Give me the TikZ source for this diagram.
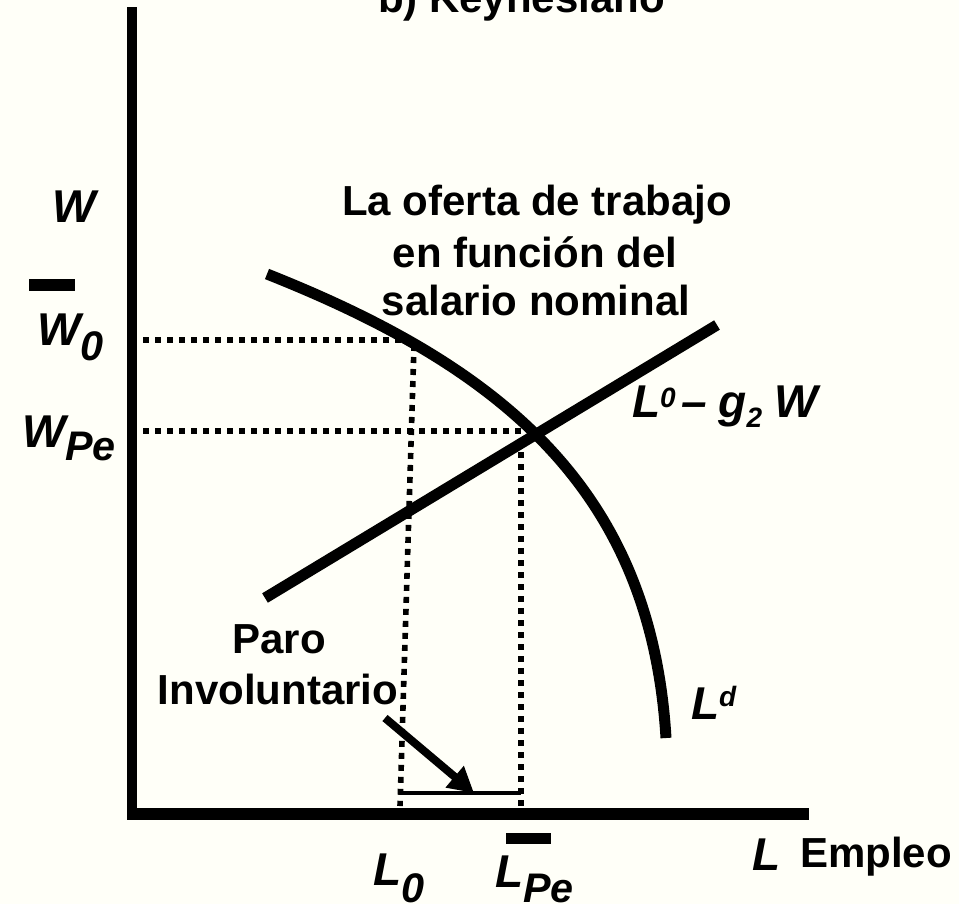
\documentclass[tikz,border=0pt]{standalone}
\usepackage{fontspec}
\setmainfont{Liberation Sans}
\usetikzlibrary{arrows.meta}
\definecolor{bgc}{RGB}{255,255,248}
\newcommand{\bfu}{\fontsize{31.5}{37.5}\selectfont\bfseries}
\newcommand{\bfi}{\fontsize{34.5}{40}\selectfont\bfseries\itshape}
\newcommand{\subi}{\fontsize{31}{37}\selectfont\bfseries\itshape}
\newcommand{\supi}{\fontsize{21}{25}\selectfont\bfseries\itshape}
\begin{document}
\begin{tikzpicture}[x=0.75pt,y=-0.75pt,
  lbl/.style={inner sep=0pt, outer sep=0pt, anchor=base west},
  ctr/.style={inner sep=0pt, outer sep=0pt, anchor=base},
  axisline/.style={line width=7.5pt},
  thick curve/.style={line width=8.25pt},
  guide/.style={line width=4.2pt, dash pattern=on 4.5pt off 4.5pt},
  bar/.style={fill=black},
]
\useasboundingbox (0,0) rectangle (959,904);
\fill[bgc] (0,0) rectangle (959,904);
\clip (0,0) rectangle (959,904);

% coordinates
\coordinate (ytop) at (132,7);
\coordinate (ybot) at (132,820);
\coordinate (xleft) at (127,814);
\coordinate (xright) at (809,814);
\coordinate (ldStart) at (267,274);
\coordinate (ldC1) at (499,366);
\coordinate (ldC2) at (651,488);
\coordinate (ldEnd) at (666,738);
\coordinate (sLow) at (265,598);
\coordinate (sHigh) at (717,325);
\coordinate (w0L) at (143,340);
\coordinate (w0R) at (404,340);
\coordinate (wpeL) at (143,431);
\coordinate (wpeR) at (531,431);
\coordinate (l0T) at (414,345);
\coordinate (l0B) at (400,806);
\coordinate (lpeT) at (521,440);
\coordinate (lpeB) at (521,823);
\coordinate (brL) at (400,793);
\coordinate (brR) at (521,793);
\coordinate (arrS) at (385,718);
\coordinate (arrE) at (474,793);

% dotted guides
\draw[guide] (w0L) -- (w0R);
\draw[guide] (wpeL) -- (wpeR);
\draw[guide] (l0T) -- (l0B);
\draw[guide] (lpeT) -- (lpeB);

% axes
\draw[axisline] (ytop) -- (ybot);
\draw[axisline, line width=9pt] (xleft) -- (xright);

% curves
\draw[thick curve] (ldStart) .. controls (ldC1) and (ldC2) .. (ldEnd);
\draw[thick curve] (sLow) -- (sHigh);

% involuntary unemployment bracket and arrow
\draw[line width=3pt] (brL) -- (brR);
\draw[line width=6pt, -{Triangle[length=19pt,width=20pt]}] (arrS) -- (arrE);

% bars
\fill[bar] (29,279) rectangle (75,291);
\fill[bar] (506,833) rectangle (551,844);

% texts
\node[lbl] (title) at (378,12) {\bfu b) Keynesiano};
\node[lbl] (wlab) at (52,222) {\bfi W};
\node[lbl] (w0lab) at (37,345) {\bfi W\raisebox{-11.25pt}{\subi 0}};
\node[lbl] (wpelab) at (22,447) {\bfi W\raisebox{-9.75pt}{\subi Pe}};
\node[lbl] (l0lab) at (373,885) {\bfi L\raisebox{-12.75pt}{\subi 0}};
\node[lbl] (lpelab) at (495,887) {\bfi L\raisebox{-11.25pt}{\subi Pe}};
\node[lbl] (llab) at (752,870) {\bfi L};
\node[lbl] (emp) at (800,867) {\bfu Empleo};
\node[lbl] (supply) at (632,417) {\bfi L\raisebox{7.5pt}{\supi 0}\hspace{4pt}–\hspace{9pt}g\raisebox{-7.5pt}{\supi 2}\hspace{9pt}W};
\node[lbl] (ldlab) at (691,719) {\bfi L\raisebox{9.75pt}{\supi d}};
\node[ctr] (of1) at (537,215) {\bfu La oferta de trabajo};
\node[ctr] (of2) at (535,267) {\bfu en función del};
\node[ctr] (of3) at (536,315) {\bfu salario nominal};
\node[ctr] (paro1) at (279,653) {\bfu Paro};
\node[ctr] (paro2) at (278,704) {\bfu Involuntario};
\end{tikzpicture}
\end{document}
